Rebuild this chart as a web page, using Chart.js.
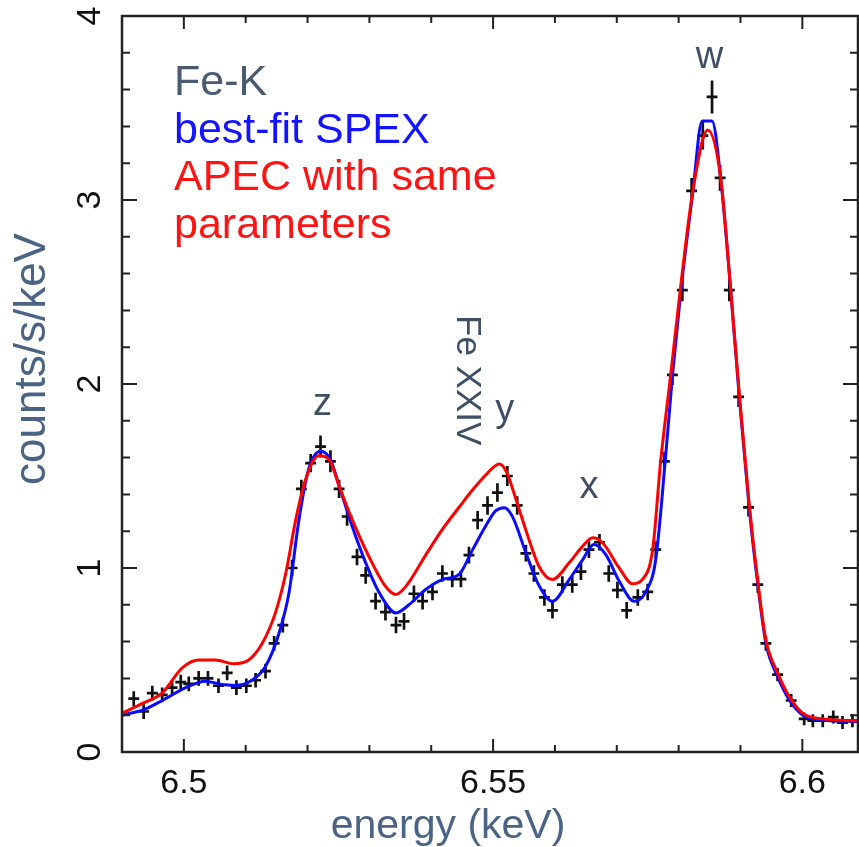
<!DOCTYPE html>
<html>
<head>
<meta charset="utf-8">
<title>Fe-K spectrum</title>
<script src="https://cdn.jsdelivr.net/npm/chart.js@4.4.1/dist/chart.umd.min.js"></script>
<style>
  html, body { margin: 0; padding: 0; background: #fff; }
  canvas { display: block; }
</style>
</head>
<body>
<canvas id="spectrum" width="859" height="847"></canvas>
<script>
// Fe-K spectrum with SPEX and APEC model curves

// observed spectrum (keV, counts/s/keV, 1-sigma error)
const dataEnergy = [
  6.4919, 6.4935, 6.4949, 6.4965, 6.4981, 6.4995, 6.5008, 6.5024, 6.5039, 6.5056,
  6.5070, 6.5085, 6.5101, 6.5116, 6.5132, 6.5146, 6.5160, 6.5175, 6.5190, 6.5205,
  6.5221, 6.5237, 6.5251, 6.5264, 6.5280, 6.5294, 6.5310, 6.5326, 6.5343, 6.5356,
  6.5372, 6.5386, 6.5402, 6.5418, 6.5434, 6.5448, 6.5461, 6.5475, 6.5491, 6.5507,
  6.5523, 6.5539, 6.5553, 6.5566, 6.5583, 6.5596, 6.5612, 6.5628, 6.5642, 6.5655,
  6.5672, 6.5687, 6.5701, 6.5716, 6.5734, 6.5750, 6.5763, 6.5777, 6.5790, 6.5806,
  6.5821, 6.5839, 6.5854, 6.5867, 6.5882, 6.5897, 6.5913, 6.5928, 6.5941, 6.5960,
  6.5982, 6.6003, 6.6017, 6.6033, 6.6050, 6.6065, 6.6081
];
const dataCounts = [
  0.29, 0.22, 0.32, 0.31, 0.35, 0.38, 0.37, 0.40, 0.40, 0.36,
  0.43, 0.35, 0.36, 0.39, 0.44, 0.59, 0.69, 1.00, 1.43, 1.57,
  1.66, 1.58, 1.43, 1.28, 1.06, 0.96, 0.82, 0.76, 0.69, 0.71,
  0.86, 0.82, 0.87, 0.97, 0.94, 0.94, 1.07, 1.26, 1.34, 1.41,
  1.50, 1.34, 1.08, 0.97, 0.84, 0.77, 0.91, 0.91, 0.98, 1.10,
  1.14, 0.97, 0.88, 0.77, 0.84, 0.87, 1.10, 1.58, 2.05, 2.51,
  3.05, 3.35, 3.56, 3.12, 2.51, 1.93, 1.33, 0.91, 0.59, 0.42,
  0.28, 0.18, 0.17, 0.17, 0.19, 0.16, 0.17
];
const dataError = [
  0.04, 0.04, 0.04, 0.04, 0.04, 0.04, 0.04, 0.04, 0.04, 0.04,
  0.04, 0.04, 0.04, 0.04, 0.04, 0.04, 0.04, 0.045, 0.05, 0.05,
  0.06, 0.06, 0.05, 0.05, 0.045, 0.045, 0.045, 0.045, 0.045, 0.045,
  0.045, 0.045, 0.045, 0.045, 0.045, 0.045, 0.045, 0.05, 0.05, 0.05,
  0.055, 0.05, 0.045, 0.045, 0.045, 0.045, 0.045, 0.045, 0.045, 0.045,
  0.045, 0.045, 0.045, 0.045, 0.045, 0.045, 0.045, 0.05, 0.055, 0.06,
  0.07, 0.075, 0.09, 0.07, 0.06, 0.055, 0.05, 0.045, 0.04, 0.035,
  0.035, 0.035, 0.035, 0.035, 0.035, 0.035, 0.035
];

// best-fit SPEX model
const spexEnergy = [
  6.4900, 6.4935, 6.4965, 6.5003, 6.5035, 6.5057, 6.5084, 6.5110, 6.5132, 6.5154,
  6.5170, 6.5186, 6.5202, 6.5221, 6.5237, 6.5251, 6.5272, 6.5294, 6.5316, 6.5343,
  6.5364, 6.5391, 6.5418, 6.5445, 6.5467, 6.5488, 6.5504, 6.5518, 6.5531, 6.5553,
  6.5572, 6.5596, 6.5623, 6.5645, 6.5663, 6.5682, 6.5704, 6.5728, 6.5747, 6.5763,
  6.5779, 6.5790, 6.5804, 6.5823, 6.5838, 6.5854, 6.5868, 6.5884, 6.5898, 6.5914,
  6.5929, 6.5941, 6.5960, 6.5979, 6.6001, 6.6033, 6.6090
];
const spexCounts = [
  0.20, 0.23, 0.28, 0.35, 0.385, 0.37, 0.362, 0.39, 0.465, 0.647,
  0.865, 1.26, 1.54, 1.635, 1.59, 1.446, 1.228, 1.028, 0.865, 0.756,
  0.80, 0.883, 0.937, 0.965, 1.10, 1.228, 1.31, 1.328, 1.282, 1.083,
  0.919, 0.819, 0.937, 1.046, 1.128, 1.074, 0.928, 0.819, 0.872, 1.046,
  1.609, 2.045, 2.518, 3.045, 3.43, 3.43, 3.117, 2.518, 1.93, 1.33,
  0.883, 0.592, 0.41, 0.283, 0.20, 0.174, 0.165
];

// APEC model with the same parameters
const apecEnergy = [
  6.4900, 6.4935, 6.4965, 6.4997, 6.5024, 6.5051, 6.5080, 6.5105, 6.5127, 6.5148,
  6.5165, 6.5181, 6.5197, 6.5218, 6.5235, 6.5251, 6.5272, 6.5299, 6.5326, 6.5343,
  6.5359, 6.5391, 6.5418, 6.5445, 6.5467, 6.5488, 6.5498, 6.5510, 6.5522, 6.5537,
  6.5558, 6.5574, 6.5596, 6.5623, 6.5645, 6.5661, 6.5677, 6.5704, 6.5725, 6.5742,
  6.5758, 6.5771, 6.5787, 6.5804, 6.5823, 6.5847, 6.5868, 6.5884, 6.5898, 6.5914,
  6.5929, 6.5941, 6.5960, 6.5979, 6.6001, 6.6033, 6.6090
];
const apecCounts = [
  0.21, 0.267, 0.32, 0.456, 0.50, 0.50, 0.48, 0.50, 0.592, 0.756,
  0.974, 1.264, 1.482, 1.61, 1.59, 1.446, 1.264, 1.064, 0.901, 0.856,
  0.90, 1.07, 1.21, 1.33, 1.425, 1.505, 1.54, 1.565, 1.52, 1.373,
  1.155, 1.01, 0.937, 1.028, 1.119, 1.164, 1.137, 1.00, 0.915, 0.94,
  1.10, 1.582, 2.045, 2.55, 3.05, 3.38, 3.12, 2.52, 1.95, 1.35,
  0.90, 0.61, 0.43, 0.30, 0.21, 0.18, 0.17
];

// axis ticks and labels
const xMajorTicks = [6.5, 6.55, 6.6];
const xTickLabels = ['6.5', '6.55', '6.6'];
const yMajorTicks = [0, 1, 2, 3, 4];
const yTickLabels = ['0', '1', '2', '3', '4'];

// line identifications
const lineNames = ['z', 'y', 'x', 'w'];
const lineEnergy = [6.5224, 6.5519, 6.5655, 6.5850];
const lineCounts = [1.83, 1.80, 1.38, 3.72];

const legendLines = ['Fe-K', 'best-fit SPEX', 'APEC with same', 'parameters'];
const legendColors = ['#4a5a70', '#1414ff', '#ff1414', '#ff1414'];

const FONT = "'Liberation Sans', Arial, Helvetica, sans-serif";
const BIN_HALF = 0.00088;

const toPoints = (xs, ys) => xs.map((x, i) => ({ x: x, y: ys[i] }));

const spectrumDecor = {
    id: 'spectrumDecor',
    beforeDatasetsDraw(chart) {
        // error bars of the observed spectrum
        const { ctx, scales } = chart;
        const meta = chart.getDatasetMeta(2);
        ctx.save();
        ctx.strokeStyle = '#111';
        ctx.lineWidth = 2.7;
        ctx.beginPath();
        meta.data.forEach((pt, i) => {
            const x0 = scales.x.getPixelForValue(dataEnergy[i] - BIN_HALF);
            const x1 = scales.x.getPixelForValue(dataEnergy[i] + BIN_HALF);
            const y0 = scales.y.getPixelForValue(dataCounts[i] - dataError[i]);
            const y1 = scales.y.getPixelForValue(dataCounts[i] + dataError[i]);
            ctx.moveTo(x0, pt.y);
            ctx.lineTo(x1, pt.y);
            ctx.moveTo(pt.x, y0);
            ctx.lineTo(pt.x, y1);
        });
        ctx.stroke();
        ctx.restore();
    },
    afterDatasetsDraw(chart) {
        const { ctx, chartArea: a, scales } = chart;
        const sx = scales.x, sy = scales.y;
        ctx.save();

        // frame
        ctx.strokeStyle = '#222';
        ctx.lineWidth = 2.5;
        ctx.strokeRect(a.left, a.top, a.right - a.left, a.bottom - a.top);

        // inward ticks on all four sides
        ctx.lineWidth = 2;
        ctx.beginPath();
        for (let k = 0; k <= 11; k++) {
            const v = 6.49 + k * 0.01;
            const px = sx.getPixelForValue(v);
            const major = Math.abs(v * 20 - Math.round(v * 20)) < 1e-6;
            const len = major ? 13 : 7;
            ctx.moveTo(px, a.bottom); ctx.lineTo(px, a.bottom - len);
            ctx.moveTo(px, a.top); ctx.lineTo(px, a.top + len);
        }
        for (let k = 0; k <= 20; k++) {
            const v = k * 0.2;
            const py = sy.getPixelForValue(v);
            const len = k % 5 === 0 ? 15 : 8;
            ctx.moveTo(a.left, py); ctx.lineTo(a.left + len, py);
            ctx.moveTo(a.right, py); ctx.lineTo(a.right - len, py);
        }
        ctx.stroke();

        // tick labels
        ctx.fillStyle = '#111';
        ctx.font = '34px ' + FONT;
        ctx.textAlign = 'center';
        ctx.textBaseline = 'alphabetic';
        xMajorTicks.forEach((v, i) => {
            ctx.fillText(xTickLabels[i], sx.getPixelForValue(v), 793);
        });
        yMajorTicks.forEach((v, i) => {
            ctx.save();
            ctx.translate(100, sy.getPixelForValue(v));
            ctx.rotate(-Math.PI / 2);
            ctx.fillText(yTickLabels[i], 0, 0);
            ctx.restore();
        });

        // axis titles
        ctx.fillStyle = '#4b6485';
        ctx.font = '41px ' + FONT;
        ctx.fillText('energy (keV)', 448, 838);
        ctx.save();
        ctx.translate(45, 359);
        ctx.rotate(-Math.PI / 2);
        ctx.font = '44px ' + FONT;
        ctx.fillText('counts/s/keV', 0, 0);
        ctx.restore();

        // line identifications
        ctx.fillStyle = '#3f4f66';
        ctx.font = '38px ' + FONT;
        lineNames.forEach((name, i) => {
            ctx.fillText(name, sx.getPixelForValue(lineEnergy[i]), sy.getPixelForValue(lineCounts[i]));
        });
        ctx.save();
        ctx.translate(457, 315);
        ctx.rotate(Math.PI / 2);
        ctx.textAlign = 'left';
        ctx.font = '35px ' + FONT;
        ctx.fillText('Fe XXIV', 0, 0);
        ctx.restore();

        // legend text
        ctx.textAlign = 'left';
        ctx.font = '43px ' + FONT;
        legendLines.forEach((txt, i) => {
            ctx.fillStyle = legendColors[i];
            ctx.fillText(txt, 174, 95 + i * 47.5);
        });

        ctx.restore();
    }
};

const ctx = document.getElementById('spectrum').getContext('2d');
new Chart(ctx, {
    type: 'scatter',
    data: {
        datasets: [
            {
                label: 'APEC with same parameters',
                data: toPoints(apecEnergy, apecCounts),
                showLine: true,
                borderColor: '#ff0000',
                borderWidth: 3,
                pointRadius: 0,
                cubicInterpolationMode: 'monotone',
                order: 0
            },
            {
                label: 'best-fit SPEX',
                data: toPoints(spexEnergy, spexCounts),
                showLine: true,
                borderColor: '#0a0aff',
                borderWidth: 3,
                pointRadius: 0,
                cubicInterpolationMode: 'monotone',
                order: 1
            },
            {
                label: 'Fe-K',
                data: toPoints(dataEnergy, dataCounts),
                showLine: false,
                pointRadius: 0,
                order: 2
            }
        ]
    },
    options: {
        responsive: false,
        animation: false,
        layout: { padding: { left: 122, right: 1, top: 16, bottom: 95 } },
        scales: {
            x: { type: 'linear', display: false, min: 6.49, max: 6.609 },
            y: { type: 'linear', display: false, min: 0, max: 4 }
        },
        plugins: {
            legend: { display: false },
            tooltip: { enabled: false }
        }
    },
    plugins: [spectrumDecor]
});
</script>
</body>
</html>
